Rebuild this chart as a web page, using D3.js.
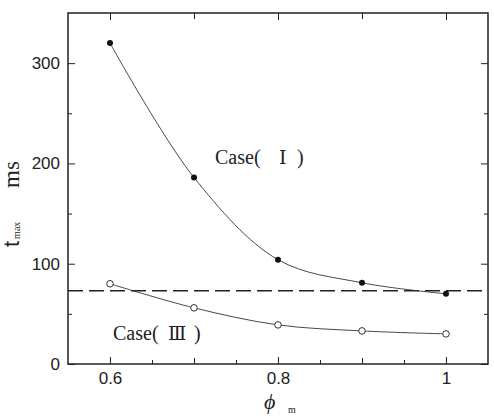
<!DOCTYPE html>
<html>
<head>
<meta charset="utf-8">
<script src="https://cdn.jsdelivr.net/npm/d3@7/dist/d3.min.js"></script>
<style>
  body { margin: 0; background: #fff; }
  svg { display: block; }
</style>
</head>
<body>
<svg id="chart" width="494" height="420"></svg>
<script>
// data
const phi = [0.6, 0.7, 0.8, 0.9, 1.0];
const caseI = [320, 186, 104, 81, 70];
const caseIII = [80, 56, 39, 33, 30];
const refLine = 73;
const xTicks = [0.6, 0.8, 1.0];
const yTicks = [0, 100, 200, 300];

const svg = d3.select('#chart');
const margin = { top: 13, right: 6, bottom: 56, left: 68 };
const width = 494, height = 420;
const innerW = width - margin.left - margin.right;
const innerH = height - margin.top - margin.bottom;

const x = d3.scaleLinear().domain([0.55, 1.05]).range([0, innerW]);
const y = d3.scaleLinear().domain([0, 350]).range([innerH, 0]);

const g = svg.append('g')
  .attr('transform', `translate(${margin.left},${margin.top})`);

const sans = "'Liberation Sans', Arial, sans-serif";
const serif = "'Liberation Serif', 'DejaVu Serif', serif";

// ticks, all pointing inward
g.append('g').attr('transform', `translate(0,${innerH})`)
  .call(d3.axisBottom(x).tickValues(xTicks).tickSize(-7).tickPadding(8)
    .tickFormat(d => d === 1 ? '1' : d3.format('.1f')(d)));
g.append('g').attr('transform', `translate(0,${innerH})`)
  .call(d3.axisBottom(x).tickValues([0.7, 0.9]).tickSize(-6).tickFormat(''));
g.append('g').attr('transform', `translate(0,${innerH})`)
  .call(d3.axisBottom(x).tickValues([0.65, 0.75, 0.85, 0.95]).tickSize(-4).tickFormat(''));
g.append('g')
  .call(d3.axisTop(x).tickValues(xTicks).tickSize(-7).tickFormat(''));
g.append('g')
  .call(d3.axisTop(x).tickValues([0.7, 0.9]).tickSize(-6).tickFormat(''));

g.append('g')
  .call(d3.axisLeft(y).tickValues(yTicks).tickSize(-7).tickPadding(8));
g.append('g')
  .call(d3.axisLeft(y).tickValues([50, 150, 250]).tickSize(-4).tickFormat(''));
g.append('g').attr('transform', `translate(${innerW},0)`)
  .call(d3.axisRight(y).tickValues(yTicks).tickSize(-7).tickFormat(''));
g.append('g').attr('transform', `translate(${innerW},0)`)
  .call(d3.axisRight(y).tickValues([50, 150, 250]).tickSize(-4).tickFormat(''));

g.selectAll('.domain').remove();
g.selectAll('.tick line').attr('stroke', '#222').attr('stroke-width', 1);
g.selectAll('.tick text')
  .attr('font-family', sans)
  .attr('font-size', 17)
  .attr('fill', '#222');

// frame
g.append('rect')
  .attr('width', innerW).attr('height', innerH)
  .attr('fill', 'none').attr('stroke', '#222').attr('stroke-width', 1.5);

// dashed reference line
g.append('line')
  .attr('x1', 0).attr('x2', innerW)
  .attr('y1', y(refLine)).attr('y2', y(refLine))
  .attr('stroke', '#222').attr('stroke-width', 1.5)
  .attr('stroke-dasharray', '15,6');

const line = d3.line()
  .x((d, i) => x(phi[i]))
  .y(d => y(d))
  .curve(d3.curveCatmullRom.alpha(0.5));

g.append('path').datum(caseI)
  .attr('d', line).attr('fill', 'none')
  .attr('stroke', '#333').attr('stroke-width', 0.9);
g.append('path').datum(caseIII)
  .attr('d', line).attr('fill', 'none')
  .attr('stroke', '#333').attr('stroke-width', 0.9);

g.selectAll('.ptI').data(caseI).enter().append('circle')
  .attr('cx', (d, i) => x(phi[i])).attr('cy', d => y(d))
  .attr('r', 3).attr('fill', '#111');
g.selectAll('.ptIII').data(caseIII).enter().append('circle')
  .attr('cx', (d, i) => x(phi[i])).attr('cy', d => y(d))
  .attr('r', 3.3).attr('fill', '#fff').attr('stroke', '#333').attr('stroke-width', 1);

// case labels (pieces placed like the original spacing)
function caseLabel(x0, yb, numeral, xNum, xClose) {
  const t = svg.append('text').attr('y', yb)
    .attr('font-family', serif).attr('font-size', 20).attr('fill', '#222');
  t.append('tspan').attr('x', x0).text('Case(');
  t.append('tspan').attr('x', xNum).attr('font-family', "'DejaVu Serif', serif")
    .attr('font-size', 19).text(numeral);
  t.append('tspan').attr('x', xClose).text(')');
}
caseLabel(215, 164, 'Ⅰ', 279, 297);
caseLabel(113, 340, 'Ⅲ', 168, 194);

// y axis title
const yt = svg.append('text')
  .attr('transform', 'translate(19,247) rotate(-90)')
  .attr('fill', '#222');
yt.append('tspan').attr('font-family', sans).attr('font-size', 22).text('t');
yt.append('tspan').attr('font-family', serif).attr('font-size', 10).attr('dx', 2).attr('dy', 1).text('max');
yt.append('tspan').attr('font-family', serif).attr('font-size', 23).attr('dy', -1)
  .attr('x', 59).text('ms');

// x axis title
const xt = svg.append('text')
  .attr('x', 264).attr('y', 409).attr('fill', '#222');
xt.append('tspan').attr('font-family', serif).attr('font-style', 'italic')
  .attr('font-size', 22).text('ϕ');
xt.append('tspan').attr('font-family', serif).attr('font-size', 10)
  .attr('x', 288).attr('dy', 4).text('m');
</script>
</body>
</html>
